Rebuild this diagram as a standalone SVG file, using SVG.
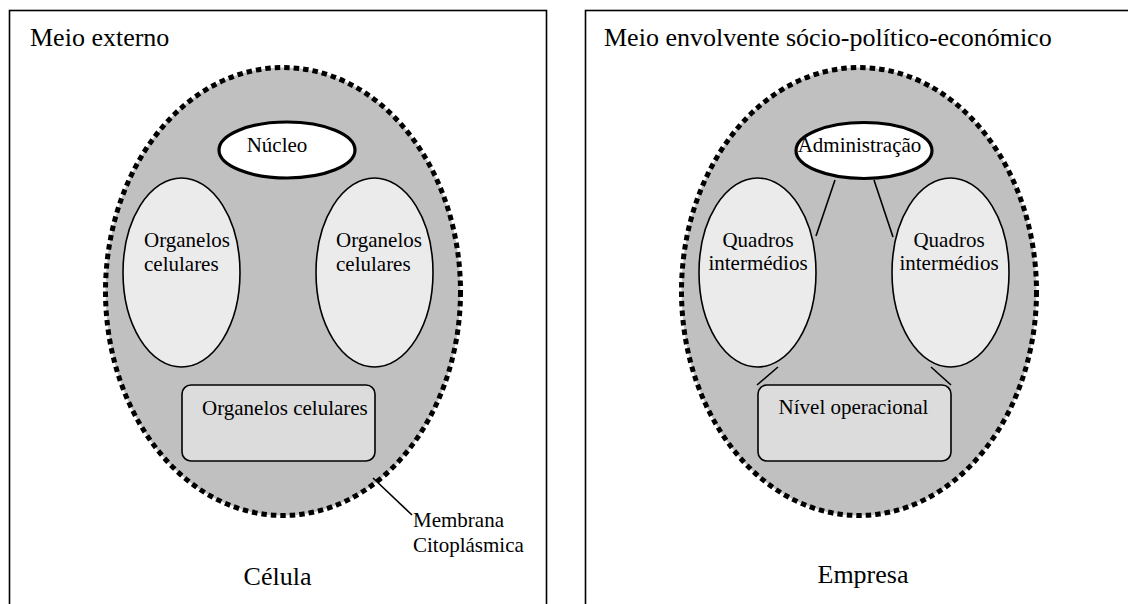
<svg xmlns="http://www.w3.org/2000/svg" width="1128" height="604" viewBox="0 0 1128 604">
<style>
  text { font-family: "Liberation Serif", "Times New Roman", serif; fill: #000; }
  .title { font-size: 26px; }
  .lbl { font-size: 21px; }
  .panel { fill: #fff; stroke: #000; stroke-width: 1.6; }
  .body { fill: #c0c0c0; stroke: #000; stroke-width: 5; stroke-dasharray: 5.5 4; }
  .org { fill: #ebebeb; stroke: #000; stroke-width: 1.6; }
  .core { fill: #fff; stroke: #000; stroke-width: 3.2; }
  .box { fill: #dcdcdc; stroke: #000; stroke-width: 1.6; }
  .conn { stroke: #000; stroke-width: 1.6; fill: none; }
</style>
<rect width="1128" height="604" fill="#fff"/>

<g id="panel-celula">
  <rect class="panel" x="9.5" y="10.5" width="537" height="610"/>
  <text class="title" x="30" y="46">Meio externo</text>
  <text class="title" x="277.5" y="585" text-anchor="middle">Célula</text>
</g>
<g id="membrana-celula">
  <ellipse class="body" cx="283" cy="291.5" rx="177.5" ry="224"/>
</g>
<g id="nucleo">
  <ellipse class="core" cx="287" cy="150" rx="68" ry="28"/>
  <text class="lbl" x="277" y="152" text-anchor="middle">Núcleo</text>
</g>
<g id="organelos-esq">
  <ellipse class="org" cx="181.5" cy="272.5" rx="58.5" ry="94.5"/>
  <text class="lbl" x="144" y="247">Organelos</text>
  <text class="lbl" x="144" y="271">celulares</text>
</g>
<g id="organelos-dir">
  <ellipse class="org" cx="374.5" cy="272.5" rx="58.5" ry="94.5"/>
  <text class="lbl" x="336" y="247">Organelos</text>
  <text class="lbl" x="336" y="271">celulares</text>
</g>
<g id="organelos-baixo">
  <rect class="box" x="182" y="385" width="193" height="76" rx="9"/>
  <text class="lbl" x="202" y="415">Organelos celulares</text>
</g>
<g id="label-membrana">
  <text class="lbl" x="413" y="527">Membrana</text>
  <text class="lbl" x="413" y="552">Citoplásmica</text>
</g>

<g id="panel-empresa">
  <rect class="panel" x="585.5" y="10.5" width="560" height="610"/>
  <text class="title" x="604" y="46">Meio envolvente sócio-político-económico</text>
  <text class="title" x="863" y="583" text-anchor="middle">Empresa</text>
</g>
<g id="membrana-empresa">
  <ellipse class="body" cx="859" cy="291.5" rx="177.5" ry="224"/>
</g>
<g id="administracao">
  <ellipse class="core" cx="864" cy="150.5" rx="68" ry="28"/>
  <text class="lbl" x="859.5" y="152" text-anchor="middle">Administração</text>
</g>
<g id="quadros-esq">
  <ellipse class="org" cx="757.5" cy="272.5" rx="58.5" ry="94.5"/>
  <text class="lbl" x="758" y="247" text-anchor="middle">Quadros</text>
  <text class="lbl" x="758" y="270" text-anchor="middle">intermédios</text>
</g>
<g id="quadros-dir">
  <ellipse class="org" cx="950.5" cy="272.5" rx="58.5" ry="94.5"/>
  <text class="lbl" x="949" y="247" text-anchor="middle">Quadros</text>
  <text class="lbl" x="949" y="270" text-anchor="middle">intermédios</text>
</g>
<g id="nivel-operacional">
  <rect class="box" x="758" y="385" width="193" height="76" rx="9"/>
  <text class="lbl" x="853.5" y="414" text-anchor="middle">Nível operacional</text>
</g>

<g id="connectors">
  <line class="conn" x1="373" y1="478" x2="412" y2="515"/>
  <line class="conn" x1="835" y1="180" x2="816" y2="236"/>
  <line class="conn" x1="874" y1="180" x2="893" y2="237"/>
  <line class="conn" x1="778" y1="367" x2="757" y2="385"/>
  <line class="conn" x1="931" y1="367" x2="951" y2="385"/>
</g>
</svg>
